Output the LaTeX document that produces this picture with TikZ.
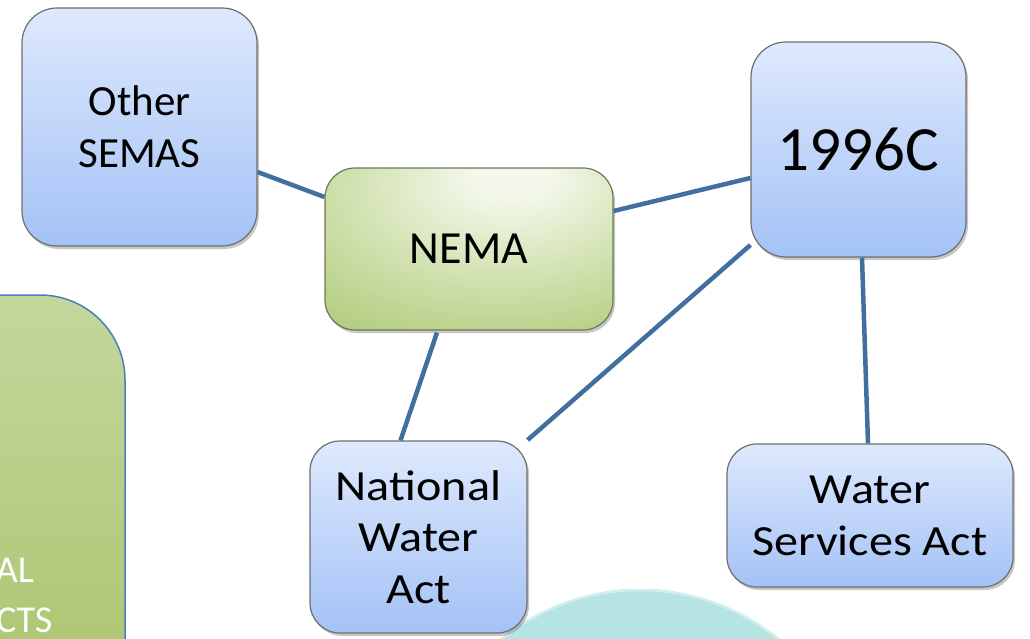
\documentclass[tikz,border=0pt]{standalone}
\usepackage{fontspec}
\setmainfont{Carlito}
\newfontfamily\widefont[FakeStretch=1.12]{Carlito}
\usetikzlibrary{calc,shadows}
\definecolor{linkblue}{HTML}{41709E}
\definecolor{blueTop}{HTML}{DEE9FD}
\definecolor{blueBot}{HTML}{A4C2F6}
\definecolor{boxEdge}{HTML}{6E6E6E}
\definecolor{nemaW}{HTML}{F4F8EC}
\definecolor{nemaM}{HTML}{CFE0AC}
\definecolor{nemaG}{HTML}{A0BF60}
\definecolor{nemaEdge}{HTML}{6B7A55}
\definecolor{bigTop}{HTML}{C4D79C}
\definecolor{bigBot}{HTML}{A2C062}
\definecolor{bigEdge}{HTML}{4A7EBB}
\definecolor{tealFill}{HTML}{B6E4E4}
\definecolor{tealEdge}{HTML}{D3EEEE}
\pgfdeclareradialshading{nemashade}{\pgfpoint{8bp}{24bp}}{color(0bp)=(nemaW); color(6bp)=(nemaW); color(28bp)=(nemaM); color(58bp)=(nemaG); color(100bp)=(nemaG)}
\tikzset{
  bluebox/.style={draw=boxEdge, line width=1.2pt, top color=blueTop, bottom color=blueBot,
    align=center, text=black, inner sep=0pt,
    drop shadow={shadow xshift=2pt, shadow yshift=-3pt, opacity=0.22, fill=black}},
  greenbox/.style={draw=nemaEdge, line width=1.2pt, shading=nemashade,
    align=center, text=black, inner sep=0pt,
    drop shadow={shadow xshift=2pt, shadow yshift=-3pt, opacity=0.22, fill=black}},
  link/.style={draw=linkblue, line width=4.5pt},
  bigtext/.style={text=white, inner sep=0pt, font=\fontsize{38}{50}\selectfont}
}
\begin{document}
\begin{tikzpicture}[x=1pt,y=-1pt]
\useasboundingbox (0,0) rectangle (1030,639);
\begin{scope}
\clip (0,0) rectangle (1030,639);
% big green box at left
\draw[bigEdge, line width=1.5pt, top color=bigTop, bottom color=bigBot, rounded corners=85pt]
  (-120,295) rectangle (125,820);
\node[bigtext, anchor=base east] (al) at (34,582) {AL};
\node[bigtext, anchor=base west] (cts) at (-4,632) {CTS};
% teal circle
\fill[tealFill] (640,810) circle (221);
\draw[tealEdge, line width=2.5pt] (640,810) circle (220);
\end{scope}
% nodes
\node[bluebox, rounded corners=35pt, minimum width=235pt, minimum height=238pt,
  font=\fontsize{43}{52}\selectfont] (semas) at (139.5,127) {Other\\SEMAS};
\node[greenbox, rounded corners=30pt, minimum width=288pt, minimum height=162pt,
  font=\fontsize{46}{55}\selectfont] (nema) at (469,249) {NEMA};
\node[bluebox, rounded corners=35pt, minimum width=215pt, minimum height=215pt,
  font=\fontsize{63}{70}\selectfont] (c96) at (858.5,149.5) {1996C};
\node[bluebox, rounded corners=30pt, minimum width=217pt, minimum height=192pt,
  font=\widefont\fontsize{43}{51.5}\selectfont] (nwa) at (418.5,537) {National\\Water\\Act};
\node[bluebox, rounded corners=30pt, minimum width=286pt, minimum height=143pt,
  font=\widefont\fontsize{43}{52}\selectfont] (wsa) at (870,515.5) {Water\\Services Act};
% connectors
\draw[link] ($(semas.east)+(0,45)$) -- ($(nema.west)+(0,-52)$);
\draw[link] ($(nema.east)+(0,-38)$) -- ($(c96.west)+(0,28.5)$);
\draw[link] ($(nema.south)+(-32,2)$) -- ($(nwa.north)+(-18,0)$);
\draw[link] ($(c96.west)+(0,95.5)$) -- ($(nwa.east)+(0,-97)$);
\draw[link] ($(c96.south)+(3.5,0)$) -- ($(wsa.north)+(-2,0)$);
\end{tikzpicture}
\end{document}
